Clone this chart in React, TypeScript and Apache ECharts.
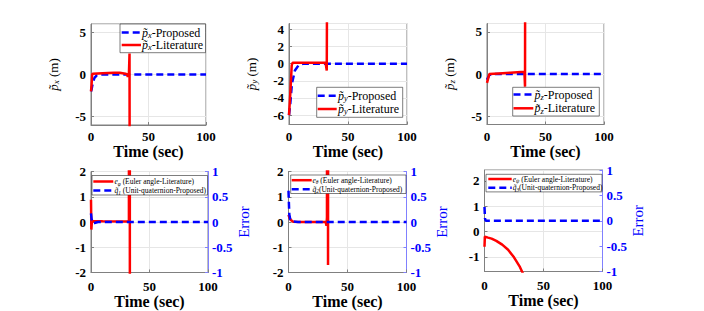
import React, { useEffect, useRef } from 'react';
import * as echarts from 'echarts';

const FONT = '"Liberation Serif", "Times New Roman", "DejaVu Serif", serif';

const timeLabel = 'Time (sec)';
const xTicks = [0, 50, 100];

// Panel 1: p̃x
const pxProposed: [number, number][] = [[0, -2], [0.5, -1.8], [1, -1.4], [2, -0.8], [3, -0.4], [5, -0.1], [8, 0], [100, 0]];
const pxLiterature: [number, number][] = [[0, -2], [0.5, -1.2], [1, 0], [1.5, 0.1], [10, 0.15], [20, 0.2], [25, 0.2], [30, 0.1], [31.5, 0], [32, -0.3], [33, 0.2], [33.5, 2.5], [34, -60]];
// Panel 2: p̃y
const pyProposed: [number, number][] = [[0, -6], [1, -4.8], [2.5, -2.3], [5, -0.8], [8, -0.2], [12, 0], [100, 0]];
const pyLiterature: [number, number][] = [[0, -6], [1.1, -3.5], [2.3, -0.2], [3, 0.1], [15, 0.1], [31, 0.1], [32, -0.8], [33.5, 60]];
// Panel 3: p̃z
const pzProposed: [number, number][] = [[0, -0.7], [1, -0.4], [2, -0.15], [4, 0], [100, 0]];
const pzLiterature: [number, number][] = [[0, -1.05], [2, 0], [10, 0.07], [20, 0.15], [32, 0.28], [32.5, -1.5], [33, 60]];
// Panel 4: e_phi (left) / q̃1 (right)
const ePhi: [number, number][] = [[0, 0.88], [0.3, -0.3], [0.8, 0.04], [10, 0.03], [32.4, 0.02], [32.8, 60], [33.6, -60]];
const q1: [number, number][] = [[0, 0.17], [0.5, 0.06], [1.5, -0.02], [3, -0.02], [6, 0], [100, 0]];
// Panel 5: e_theta (left) / q̃2 (right)
const eTheta: [number, number][] = [[0, 0.28], [1, 0.15], [2, 0.08], [4, 0.01], [10, 0], [31.5, 0], [32.2, -0.15], [32.6, 0.2], [33, 40], [33.5, -1.7], [33.9, 40]];
const q2: [number, number][] = [[0, 0.62], [0.3, 0.4], [0.7, 0.15], [1.5, 0.05], [4, 0.01], [8, 0], [100, 0]];
// Panel 6: e_psi (left) / q̃3 (right)
const ePsi: [number, number][] = [[0, -0.6], [0.3, -0.2], [3, -0.24], [6, -0.28], [10, -0.37], [15, -0.52], [20, -0.72], [25, -1.02], [30, -1.4], [35, -1.9]];
const q3: [number, number][] = [[0, 0.27], [0.4, 0.05], [1, 0], [100, 0]];

const RED = '#ff0000';
const BLUE = '#0000ff';
const DASH = [7, 4];

const grids = [
  { left: 91, top: 24, width: 115, height: 101 },
  { left: 289, top: 23.5, width: 118, height: 101 },
  { left: 487, top: 23.5, width: 117, height: 101 },
  { left: 91, top: 171.5, width: 117, height: 101 },
  { left: 288.5, top: 171.5, width: 118, height: 101 },
  { left: 484.5, top: 170, width: 118, height: 101.5 },
];

function richFor(size: number, lh: number) {
  return {
    i: { fontFamily: FONT, fontSize: size, fontStyle: 'italic', fill: '#000', color: '#000', lineHeight: lh },
    s: { fontFamily: FONT, fontSize: Math.round(size * 0.7 * 10) / 10, fontStyle: 'italic', fill: '#000', color: '#000', lineHeight: lh, verticalAlign: 'bottom' },
    n: { fontFamily: FONT, fontSize: size, fill: '#000', color: '#000', lineHeight: lh },
  };
}

type Row = { label: string; color: string; dashed: boolean; y: number };
type LegendBox = { x: number; y: number; w: number; h: number; lx1: number; lx2: number; tx: number; size: number; rows: Row[] };

const legends: LegendBox[] = [
  { x: 120, y: 24, w: 85.5, h: 28.7, lx1: 121.7, lx2: 141, tx: 142, size: 12, rows: [
    { label: '{i|p̃}{s|x}{n|-Proposed}', color: BLUE, dashed: true, y: 32.5 },
    { label: '{i|p̃}{s|x}{n|-Literature}', color: RED, dashed: false, y: 45 },
  ] },
  { x: 316.7, y: 87.3, w: 86, h: 30, lx1: 317.7, lx2: 336.7, tx: 338, size: 12, rows: [
    { label: '{i|p̃}{s|y}{n|-Proposed}', color: BLUE, dashed: true, y: 95.7 },
    { label: '{i|p̃}{s|y}{n|-Literature}', color: RED, dashed: false, y: 109 },
  ] },
  { x: 512.7, y: 87.3, w: 86.6, h: 28.7, lx1: 513.5, lx2: 533.3, tx: 534.5, size: 12, rows: [
    { label: '{i|p̃}{s|z}{n|-Proposed}', color: BLUE, dashed: true, y: 94.5 },
    { label: '{i|p̃}{s|z}{n|-Literature}', color: RED, dashed: false, y: 108.3 },
  ] },
  { x: 92, y: 175.5, w: 115.5, h: 19.5, lx1: 93.3, lx2: 113.3, tx: 114.5, size: 7.5, rows: [
    { label: '{i|e}{s|φ}{n| (Euler angle-Literature)}', color: RED, dashed: false, y: 181.5 },
    { label: '{i|q̃}{s|1}{n| (Unit-quaternion-Proposed)}', color: BLUE, dashed: true, y: 190.5 },
  ] },
  { x: 290.7, y: 175, w: 115.3, h: 18.5, lx1: 291.7, lx2: 311.7, tx: 312.5, size: 7.5, rows: [
    { label: '{i|e}{s|θ}{n| (Euler angle-Literature)}', color: RED, dashed: false, y: 180.2 },
    { label: '{i|q̃}{s|2}{n|(Unit-quaternion-Proposed)}', color: BLUE, dashed: true, y: 189.2 },
  ] },
  { x: 486, y: 174.3, w: 116, h: 17.6, lx1: 488.3, lx2: 511.7, tx: 512.7, size: 7.5, rows: [
    { label: '{i|e}{s|ψ}{n| (Euler angle-Literature)}', color: RED, dashed: false, y: 179 },
    { label: '{i|q̃}{s|3}{n|(Unit-quaternion-Proposed)}', color: BLUE, dashed: true, y: 187.7 },
  ] },
];

function legendGraphics(lg: LegendBox) {
  const els: any[] = [
    { type: 'rect', z: 100, shape: { x: lg.x, y: lg.y, width: lg.w, height: lg.h }, style: { fill: '#ffffff', stroke: '#262626', lineWidth: 0.6 } },
  ];
  lg.rows.forEach(r => {
    els.push({ type: 'line', z: 101, shape: { x1: lg.lx1, y1: r.y, x2: lg.lx2, y2: r.y }, style: { stroke: r.color, lineWidth: 2.5, lineDash: r.dashed ? DASH : null } });
    els.push({ type: 'text', z: 101, x: lg.tx, y: r.y, style: { text: r.label, rich: richFor(lg.size, lg.size + 1.5), verticalAlign: 'middle', align: 'left', fontFamily: FONT, fontSize: lg.size, fill: '#000' } });
  });
  return els;
}

function xAxis(gridIndex: number, bottomRow: boolean) {
  return {
    type: 'value', gridIndex, min: xTicks[0], max: xTicks[2], interval: xTicks[1] - xTicks[0],
    name: timeLabel, nameLocation: 'middle', nameGap: bottomRow ? 18 : 16,
    nameTextStyle: { fontFamily: FONT, fontSize: 16, fontWeight: 'bold', color: '#000' },
    axisLine: { show: true, onZero: false, lineStyle: { color: '#808080', width: 1 } },
    axisTick: { show: true, inside: true, length: 3, lineStyle: { color: '#808080' } },
    axisLabel: { fontFamily: FONT, fontSize: 13, fontWeight: 'bold', color: '#000', margin: bottomRow ? 7 : 5 },
    splitLine: { show: true, lineStyle: { color: '#e6e6e6', width: 1 } },
  };
}

function leftAxis(gridIndex: number, min: number, max: number, opts: any, name?: string) {
  return {
    type: 'value', gridIndex, position: 'left', min, max,
    interval: opts.interval, splitNumber: opts.splitNumber,
    name: name || '', nameLocation: 'middle', nameRotate: 90, nameGap: 31,
    nameTextStyle: { rich: richFor(13, 14) },
    axisLine: { show: true, onZero: false, lineStyle: { color: '#808080', width: 1 } },
    axisTick: { show: true, inside: true, length: 3, lineStyle: { color: '#808080' } },
    axisLabel: { fontFamily: FONT, fontSize: 13, fontWeight: 'bold', color: '#000', margin: 5, showMinLabel: !!opts.showEnds, showMaxLabel: !!opts.showEnds },
    splitLine: { show: true, lineStyle: { color: '#e6e6e6', width: 1 } },
  };
}

function rightAxis(gridIndex: number) {
  return {
    type: 'value', gridIndex, position: 'right', min: -1, max: 1, interval: 0.5,
    name: 'Error', nameLocation: 'middle', nameRotate: 90, nameGap: 20,
    nameTextStyle: { fontFamily: FONT, fontSize: 15, color: BLUE },
    axisLine: { show: true, onZero: false, lineStyle: { color: '#8080ff', width: 1 } },
    axisTick: { show: true, inside: true, length: 3, lineStyle: { color: '#8080ff' } },
    axisLabel: { fontFamily: FONT, fontSize: 13, fontWeight: 'bold', color: BLUE, margin: 4 },
    splitLine: { show: false },
  };
}

function lineSeries(name: string, data: [number, number][], xi: number, yi: number, color: string, dashed: boolean) {
  return {
    type: 'line', name, data, xAxisIndex: xi, yAxisIndex: yi,
    symbol: 'none', showSymbol: false, clip: true, silent: true,
    lineStyle: { color, width: 2.5, type: dashed ? DASH : 'solid' },
    itemStyle: { color },
  };
}

export default function App() {
  const ref = useRef<HTMLDivElement>(null);
  useEffect(() => {
    if (!ref.current) return;
    const chart = echarts.init(ref.current, undefined, { renderer: 'svg' });
    const option: any = {
      animation: false,
      backgroundColor: '#ffffff',
      grid: grids.map(g => ({ ...g, show: true, borderColor: '#808080', borderWidth: 1, backgroundColor: 'transparent', containLabel: false })),
      xAxis: [0, 1, 2, 3, 4, 5].map(i => xAxis(i, i >= 3)),
      yAxis: [
        leftAxis(0, -6, 6, { splitNumber: 3 }, '{i|p̃}{s|x}{n| (m)}'),
        leftAxis(1, -7.1, 4.7, { splitNumber: 6 }, '{i|p̃}{s|y}{n| (m)}'),
        leftAxis(2, -6, 6, { splitNumber: 3 }, '{i|p̃}{s|z}{n| (m)}'),
        leftAxis(3, -2, 2, { interval: 1, showEnds: true }),
        rightAxis(3),
        leftAxis(4, -2, 2, { interval: 1, showEnds: true }),
        rightAxis(4),
        leftAxis(5, -1.58, 2.43, { splitNumber: 4 }),
        rightAxis(5),
      ],
      series: [
        lineSeries('p̃x-Proposed', pxProposed, 0, 0, BLUE, true),
        lineSeries('p̃x-Literature', pxLiterature, 0, 0, RED, false),
        lineSeries('p̃y-Proposed', pyProposed, 1, 1, BLUE, true),
        lineSeries('p̃y-Literature', pyLiterature, 1, 1, RED, false),
        lineSeries('p̃z-Proposed', pzProposed, 2, 2, BLUE, true),
        lineSeries('p̃z-Literature', pzLiterature, 2, 2, RED, false),
        lineSeries('eφ (Euler angle-Literature)', ePhi, 3, 3, RED, false),
        lineSeries('q̃1 (Unit-quaternion-Proposed)', q1, 3, 4, BLUE, true),
        lineSeries('eθ (Euler angle-Literature)', eTheta, 4, 5, RED, false),
        lineSeries('q̃2(Unit-quaternion-Proposed)', q2, 4, 6, BLUE, true),
        lineSeries('eψ (Euler angle-Literature)', ePsi, 5, 7, RED, false),
        lineSeries('q̃3(Unit-quaternion-Proposed)', q3, 5, 8, BLUE, true),
      ],
      graphic: legends.flatMap(lg => legendGraphics(lg)),
    };
    chart.setOption(option);
    return () => chart.dispose();
  }, []);
  return <div ref={ref} style={{ position: 'absolute', left: 0, top: 0, width: 704, height: 311 }} />;
}
